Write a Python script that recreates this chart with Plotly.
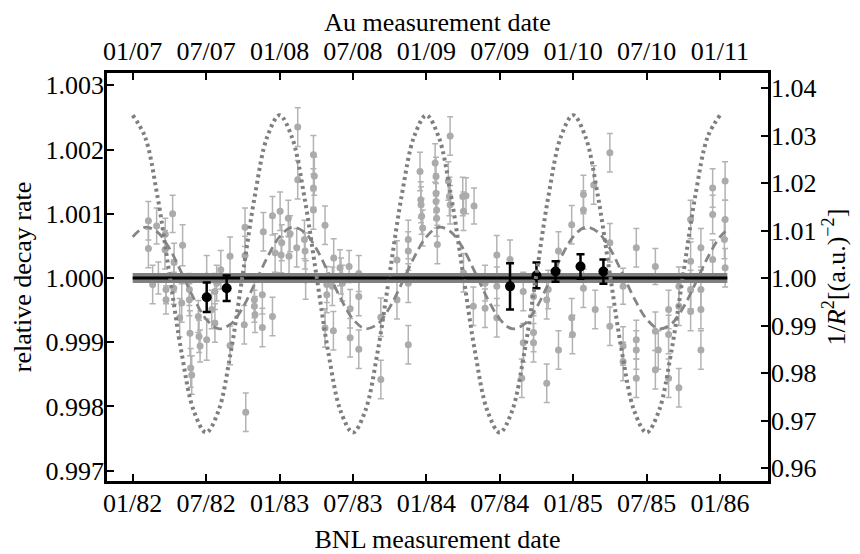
import plotly.graph_objects as go

# ---------------- data ----------------
bnl_date = [
    1982.107, 1982.107, 1982.163, 1982.136, 1982.175, 1982.220, 1982.222, 1982.272, 1982.282, 1982.340,
    1982.227, 1982.227, 1982.280, 1982.280, 1982.334, 1982.320, 1982.386, 1982.386, 1982.390, 1982.395,
    1982.402, 1982.447, 1982.452, 1982.459, 1982.504, 1982.504, 1982.538, 1982.560, 1982.572, 1982.560,
    1982.600, 1982.663, 1982.663,
    1982.765, 1982.765, 1982.770, 1982.760, 1982.829, 1982.833, 1982.829, 1982.883, 1982.883, 1982.890,
    1982.952, 1982.952, 1982.970, 1983.004, 1983.011, 1983.015, 1983.060, 1983.065, 1983.072, 1983.117,
    1983.124, 1983.124, 1983.170, 1983.178, 1983.174, 1983.231, 1983.237, 1983.231, 1983.231, 1983.310,
    1983.322, 1983.322, 1983.310, 1983.360, 1983.367, 1983.369, 1983.412, 1983.419, 1983.428, 1983.474,
    1983.481, 1983.481,
    1983.540, 1983.540, 1983.540, 1983.690, 1983.690, 1983.800, 1983.800, 1983.877, 1983.877, 1983.877,
    1983.877, 1983.957, 1983.962, 1983.964, 1983.968, 1983.975, 1984.060, 1984.066, 1984.066, 1984.066,
    1984.070, 1984.070, 1984.075, 1984.150, 1984.157, 1984.162, 1984.162, 1984.248, 1984.253, 1984.270,
    1984.325, 1984.253, 1984.320,
    1984.400, 1984.400, 1984.480, 1984.480, 1984.480, 1984.570, 1984.660, 1984.660, 1984.650, 1984.730,
    1984.730, 1984.730, 1984.820, 1984.820, 1984.830, 1984.900, 1984.900, 1984.990, 1984.990, 1984.995,
    1985.070, 1985.070, 1985.070, 1985.140, 1985.150, 1985.250, 1985.250, 1985.250,
    1985.340, 1985.340, 1985.340, 1985.430, 1985.430, 1985.430, 1985.430, 1985.560, 1985.560, 1985.560,
    1985.580, 1985.650, 1985.650, 1985.650, 1985.720, 1985.720, 1985.720, 1985.800, 1985.800, 1985.800,
    1985.800, 1985.870, 1985.870, 1985.870, 1985.870, 1985.950, 1985.950, 1985.950, 1986.035, 1986.035,
    1986.035, 1986.030,
]
bnl_rate = [
    1.00089, 1.00046, 1.00081, 0.99990, 1.00000, 1.00044, 1.00068, 1.00100, 1.00024, 1.00051,
    0.99982, 0.99966, 0.99984, 1.00003, 0.99961, 0.99938, 0.99982, 0.99966, 0.99914, 0.99860,
    0.99849, 0.99940, 0.99909, 0.99894, 0.99904, 1.00003, 0.99951, 0.99979, 0.99992, 0.99930,
    1.00013, 1.00034, 0.99895,
    1.00079, 1.00035, 0.99791, 0.99927, 0.99966, 0.99943, 0.99956, 0.99974, 0.99923, 1.00072,
    1.00097, 0.99940, 1.00039, 1.00104, 1.00036, 1.00055, 1.00093, 1.00034, 1.00069, 1.00047,
    1.00235, 1.00153, 1.00060, 0.99997, 1.00042, 1.00192, 1.00159, 1.00140, 1.00106, 1.00082,
    0.99990, 0.99974, 0.99922, 0.99987, 0.99918, 1.00031, 1.00016, 1.00003, 0.99992, 1.00018,
    0.99952, 0.99907,
    1.00007, 0.99971, 0.99889, 0.99842, 0.99939, 1.00028, 0.99966, 1.00060, 1.00042, 0.99992,
    0.99896, 1.00166, 1.00122, 1.00114, 1.00096, 1.00078, 1.00179, 1.00158, 1.00132, 1.00119,
    1.00106, 1.00093, 1.00052, 1.00151, 1.00127, 1.00114, 1.00221, 1.00127, 1.00104, 1.00128,
    1.00112, 1.00008, 0.99956,
    0.99992, 0.99953, 1.00036, 0.99987, 0.99938, 1.00029, 0.99979, 0.99899, 0.99844, 0.99899,
    0.99915, 0.99971, 0.99836, 0.99966, 0.99982, 1.00042, 0.99888, 1.00083, 0.99938, 0.99912,
    1.00130, 1.00106, 0.99984, 1.00145, 0.99951, 1.00195, 1.00055, 0.99925,
    0.99987, 0.99894, 0.99870, 0.99904, 0.99888, 0.99844, 1.00047, 1.00018, 0.99917, 0.99857,
    0.99888, 0.99951, 0.99912, 0.99844, 0.99829, 0.99987, 0.99956, 1.00091, 1.00026, 0.99982,
    0.99948, 1.00047, 0.99982, 0.99951, 0.99888, 1.00140, 1.00099, 1.00029, 1.00151, 1.00091,
    1.00016, 1.00060,
]
bnl_err = [
    0.00030, 0.00030, 0.00028, 0.00030, 0.00025, 0.00030, 0.00025, 0.00029, 0.00030, 0.00032,
    0.00022, 0.00022, 0.00025, 0.00025, 0.00030, 0.00030, 0.00025, 0.00025, 0.00035, 0.00030,
    0.00030, 0.00025, 0.00025, 0.00025, 0.00032, 0.00032, 0.00030, 0.00028, 0.00028, 0.00030,
    0.00030, 0.00030, 0.00030,
    0.00030, 0.00030, 0.00030, 0.00030, 0.00028, 0.00028, 0.00025, 0.00030, 0.00030, 0.00030,
    0.00030, 0.00030, 0.00030, 0.00030, 0.00028, 0.00028, 0.00028, 0.00030, 0.00028, 0.00030,
    0.00030, 0.00030, 0.00030, 0.00030, 0.00028, 0.00030, 0.00030, 0.00030, 0.00030, 0.00030,
    0.00028, 0.00028, 0.00030, 0.00030, 0.00030, 0.00030, 0.00028, 0.00028, 0.00028, 0.00025,
    0.00030, 0.00030,
    0.00028, 0.00030, 0.00030, 0.00030, 0.00030, 0.00030, 0.00030, 0.00030, 0.00030, 0.00030,
    0.00030, 0.00030, 0.00028, 0.00028, 0.00028, 0.00028, 0.00030, 0.00030, 0.00030, 0.00028,
    0.00028, 0.00028, 0.00030, 0.00030, 0.00030, 0.00030, 0.00030, 0.00030, 0.00030, 0.00028,
    0.00028, 0.00030, 0.00030,
    0.00028, 0.00030, 0.00030, 0.00030, 0.00030, 0.00030, 0.00030, 0.00030, 0.00030, 0.00030,
    0.00030, 0.00030, 0.00030, 0.00030, 0.00030, 0.00030, 0.00030, 0.00030, 0.00030, 0.00030,
    0.00030, 0.00030, 0.00030, 0.00030, 0.00030, 0.00030, 0.00030, 0.00030,
    0.00028, 0.00030, 0.00030, 0.00030, 0.00030, 0.00030, 0.00030, 0.00028, 0.00030, 0.00030,
    0.00030, 0.00030, 0.00030, 0.00030, 0.00030, 0.00030, 0.00030, 0.00030, 0.00030, 0.00030,
    0.00030, 0.00030, 0.00030, 0.00030, 0.00030, 0.00030, 0.00030, 0.00030, 0.00030, 0.00030,
    0.00030, 0.00030,
]

au_date = [1982.504, 1982.640, 1984.570, 1984.750, 1984.880, 1985.050, 1985.206]
au_rate = [0.99970, 0.99984, 0.99987, 1.00004, 1.00010, 1.00018, 1.00010]
au_err = [0.00023, 0.00020, 0.00036, 0.00020, 0.00016, 0.00019, 0.00019]

# monthly grid for the smooth curves
curve_date = [1982 + m / 12 for m in range(49)]
inv_r2 = [
    1.0343, 1.0298, 1.0176, 1.0009, 0.9842, 0.9720, 0.9675, 0.9720, 0.9842, 1.0009, 1.0176, 1.0298,
    1.0343, 1.0298, 1.0176, 1.0009, 0.9842, 0.9720, 0.9675, 0.9720, 0.9842, 1.0009, 1.0176, 1.0298,
    1.0343, 1.0298, 1.0176, 1.0009, 0.9842, 0.9720, 0.9675, 0.9720, 0.9842, 1.0009, 1.0176, 1.0298,
    1.0343, 1.0298, 1.0176, 1.0009, 0.9842, 0.9720, 0.9675, 0.9720, 0.9842, 1.0009, 1.0176, 1.0298,
    1.0343,
]
fit_date = curve_date + [1986.05]
fit_rate = [
    1.00064, 1.00079, 1.00072, 1.00046, 1.00008, 0.99968, 0.99936, 0.99921, 0.99928, 0.99954, 0.99992, 1.00032,
    1.00064, 1.00079, 1.00072, 1.00046, 1.00008, 0.99968, 0.99936, 0.99921, 0.99928, 0.99954, 0.99992, 1.00032,
    1.00064, 1.00079, 1.00072, 1.00046, 1.00008, 0.99968, 0.99936, 0.99921, 0.99928, 0.99954, 0.99992, 1.00032,
    1.00064, 1.00079, 1.00072, 1.00046, 1.00008, 0.99968, 0.99936, 0.99921, 0.99928, 0.99954, 0.99992, 1.00032,
    1.00064, 1.00075,
]
mean_date = [1982.0, 1986.05]
mean_rate = [1.0, 1.0]

tick_pos = [1982.0, 1982.5, 1983.0, 1983.5, 1984.0, 1984.5, 1985.0, 1985.5, 1986.0]
bnl_labels = ["01/82", "07/82", "01/83", "07/83", "01/84", "07/84", "01/85", "07/85", "01/86"]
au_labels = ["01/07", "07/07", "01/08", "07/08", "01/09", "07/09", "01/10", "07/10", "01/11"]
left_ticks = [0.997, 0.998, 0.999, 1.000, 1.001, 1.002, 1.003]
left_labels = ["0.997", "0.998", "0.999", "1.000", "1.001", "1.002", "1.003"]
right_ticks = [0.96, 0.97, 0.98, 0.99, 1.00, 1.01, 1.02, 1.03, 1.04]
right_labels = ["0.96", "0.97", "0.98", "0.99", "1.00", "1.01", "1.02", "1.03", "1.04"]

# ---------------- figure ----------------
FONT = "Liberation Serif"
TSIZE = 26
fig = go.Figure()

fig.add_trace(go.Scatter(
    x=bnl_date, y=bnl_rate, mode="markers",
    marker=dict(size=7, color="#ababab"),
    error_y=dict(type="data", array=bnl_err, color="#b3b3b3", thickness=1.5, width=3),
    showlegend=False, hoverinfo="skip"))

fig.add_trace(go.Scatter(
    x=fit_date, y=fit_rate, mode="lines",
    line=dict(color="#858585", width=2.8, dash="9px,5px", shape="spline"),
    showlegend=False, hoverinfo="skip"))

fig.add_trace(go.Scatter(
    x=mean_date, y=mean_rate, mode="lines",
    line=dict(color="#808080", width=10),
    showlegend=False, hoverinfo="skip"))
fig.add_trace(go.Scatter(
    x=mean_date, y=mean_rate, mode="lines",
    line=dict(color="#000000", width=3),
    showlegend=False, hoverinfo="skip"))

fig.add_trace(go.Scatter(
    x=au_date, y=au_rate, mode="markers",
    marker=dict(size=10, color="#000000"),
    error_y=dict(type="data", array=au_err, color="#000000", thickness=2.5, width=4),
    showlegend=False, hoverinfo="skip"))

fig.add_trace(go.Scatter(
    x=curve_date, y=inv_r2, mode="lines", yaxis="y2",
    line=dict(color="#7f7f7f", width=4, dash="3px,3.5px", shape="spline"),
    showlegend=False, hoverinfo="skip"))

# invisible trace so the top (Au date) axis is drawn
fig.add_trace(go.Scatter(
    x=[1984.0], y=[1.0], xaxis="x2", mode="markers",
    marker=dict(size=1, opacity=0), showlegend=False, hoverinfo="skip"))

axis_common = dict(
    showgrid=False, zeroline=False, showline=True, linecolor="black", linewidth=2.5,
    ticks="inside", ticklen=7, tickwidth=2, tickcolor="black", automargin=False,
    tickfont=dict(family=FONT, size=TSIZE, color="black"),
)
xr = [1981.825, 1986.327]
# the page body adds an 8 px margin, so the figure is 8 px smaller each way
fig.update_layout(
    width=852, height=546,
    margin=dict(l=99, r=92, t=65, b=73, autoexpand=False),
    paper_bgcolor="white", plot_bgcolor="white",
    font=dict(family=FONT, size=TSIZE, color="black"),
    xaxis=dict(range=xr, tickvals=tick_pos, ticktext=bnl_labels, ticklabelstandoff=-3,
               title=dict(text="BNL measurement date", font=dict(family=FONT, size=TSIZE), standoff=14),
               **axis_common),
    xaxis2=dict(range=xr, tickvals=tick_pos, ticktext=au_labels, overlaying="x", side="top",
                anchor="y",
                title=dict(text="Au measurement date", font=dict(family=FONT, size=TSIZE), standoff=0),
                **axis_common),
    yaxis=dict(range=[0.996838, 1.003193], tickvals=left_ticks, ticktext=left_labels,
               ticklabelstandoff=-5,
               title=dict(text="relative decay rate", font=dict(family=FONT, size=TSIZE), standoff=8),
               **axis_common),
    yaxis2=dict(range=[0.9573, 1.0432], tickvals=right_ticks, ticktext=right_labels,
                overlaying="y", side="right", anchor="x", ticklabelstandoff=-5,
                title=dict(text="1/<i>R</i><sup>2</sup>[(a.u.)<sup>\u22122</sup>]",
                           font=dict(family=FONT, size=TSIZE), standoff=12),
                **axis_common),
)

fig.write_html("out.html")
